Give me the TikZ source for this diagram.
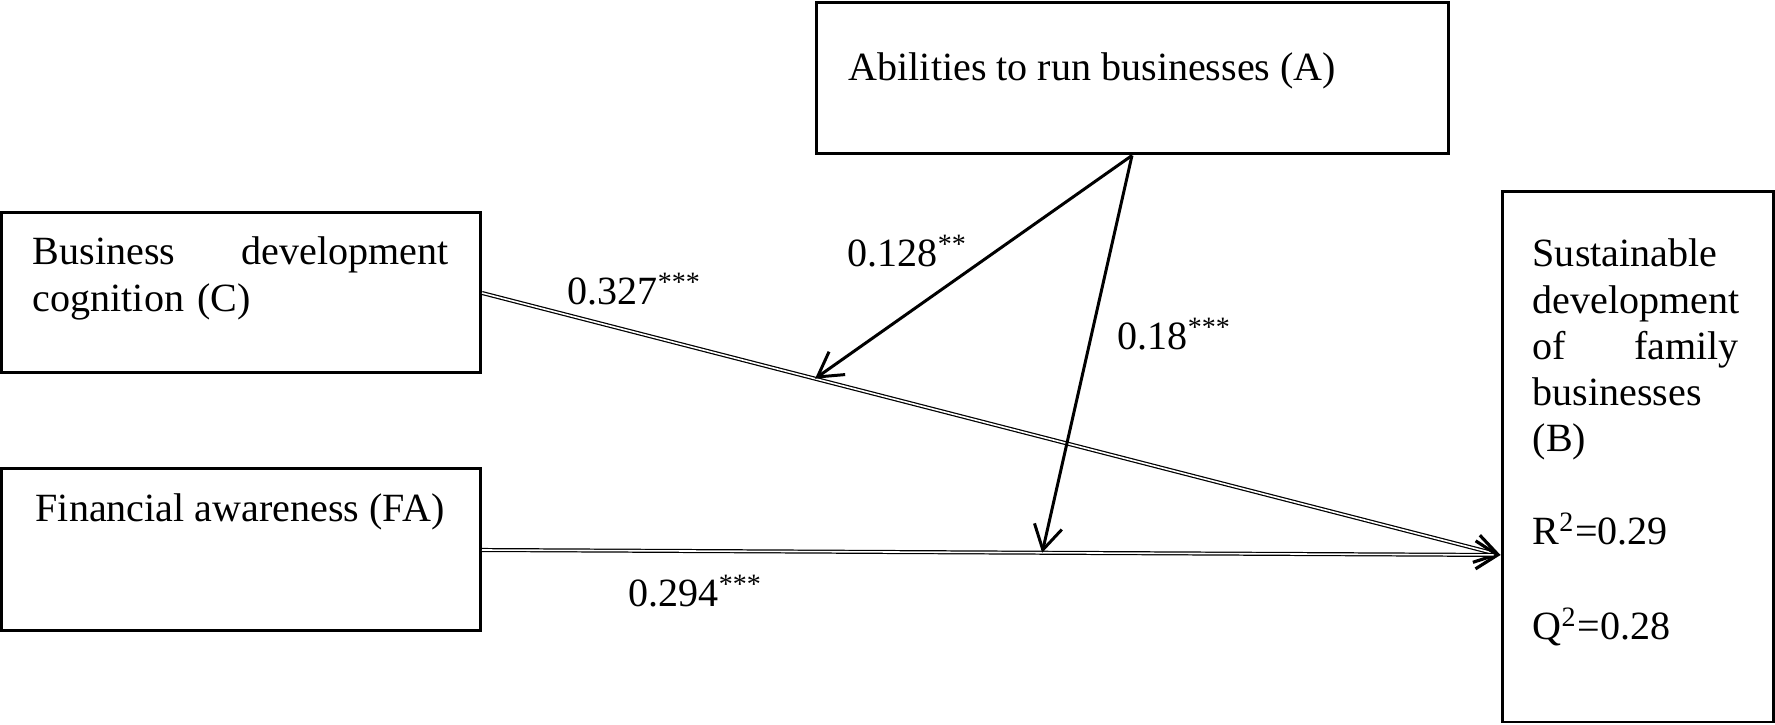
\documentclass[tikz,border=0pt]{standalone}
\usepackage{fontspec}
\setmainfont{Liberation Serif}
\usetikzlibrary{arrows.meta}

\begin{document}
\begin{tikzpicture}[
		font=\fontsize{11.4}{13.1}\selectfont,
		box/.style={draw, line width=0.85pt, inner sep=0pt},
		txt/.style={inner sep=0pt, anchor=base west},
		para/.style={inner sep=0pt, anchor=north west, align=left},
		dline/.style={double, line width=0.35pt, double distance=0.45pt, -{Straight Barb[length=2.2mm,width=2.8mm,line width=0.9pt]}},
		sarrow/.style={line width=0.85pt, -{Straight Barb[length=2.4mm,width=2.8mm]}}
	]
	\useasboundingbox (0,0) rectangle (17.75,7.25);
	% boxes
	\node[box, minimum width=6.32cm, minimum height=1.51cm] (A) at (11.32,6.465) {};
	\node[box, minimum width=4.79cm, minimum height=1.60cm] (C) at (2.41,4.32) {};
	\node[box, minimum width=4.79cm, minimum height=1.62cm] (FA) at (2.41,1.75) {};
	\node[box, minimum width=2.71cm, minimum height=5.30cm] (B) at (16.375,2.68) {};
	% box texts
	\node[txt] (Atext) at (8.48,6.44) {Abilities to run businesses (A)};
	\node[para, text width=4.16cm] (Ctext) at (0.32,4.885) {Business\hfill development\\cognition (C)};
	\node[txt] (FAtext) at (0.35,2.03) {Financial awareness (FA)};
	\node[para, text width=2.06cm] (Btext) at (15.32,4.865) {Sustainable\\development\\of\hfill family\\businesses\\(B)};
	\node[txt] (R2) at (15.32,1.80) {R\textsuperscript{2}=0.29};
	\node[txt] (Q2) at (15.32,0.85) {Q\textsuperscript{2}=0.28};
	% paths
	\coordinate (Bin) at ([yshift=-0.98cm]B.west);
	\draw[dline] (C.east) -- coordinate[pos=0.327] (onC) (Bin);
	\draw[dline] (FA.east) -- coordinate[pos=0.55] (onFA) (Bin);
	\draw[sarrow] (A.south) -- (onC);
	\draw[sarrow] (A.south) -- (onFA);
	% coefficients
	\node[txt] (cB) at (5.67,4.20) {0.327\textsuperscript{***}};
	\node[txt] (cA) at (8.47,4.58) {0.128\textsuperscript{**}};
	\node[txt] (cAB) at (11.17,3.75) {0.18\textsuperscript{***}};
	\node[txt] (cFA) at (6.28,1.18) {0.294\textsuperscript{***}};
\end{tikzpicture}
\end{document}
